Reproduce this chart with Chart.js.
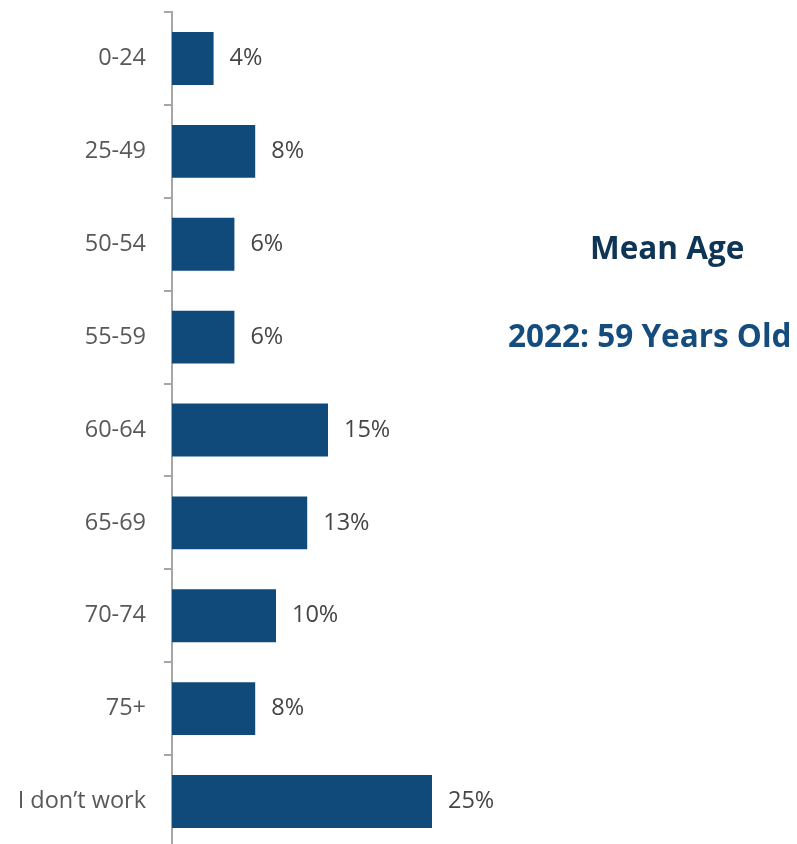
<!DOCTYPE html>
<html>
<head>
<meta charset="utf-8">
<script src="https://cdn.jsdelivr.net/npm/chart.js@4/dist/chart.umd.min.js"></script>
<style>
  html, body { margin: 0; padding: 0; background: #ffffff; overflow: hidden; }
  #wrap { position: relative; width: 797px; height: 844px; overflow: hidden; }
  canvas { display: block; position: absolute; left: 0; top: -20px; }
  .note { position: absolute; font-family: "Open Sans", "Lato", sans-serif; font-weight: 700; white-space: nowrap; line-height: 44px; }
  #t1 { left: 590px; top: 225px; font-size: 31.5px; color: #0E3556; }
  #t2 { left: 508px; top: 313px; font-size: 31.5px; color: #154C7E; }
</style>
</head>
<body>
<div id="wrap">
  <canvas id="c" width="797" height="900"></canvas>
  <div class="note" id="t1">Mean Age</div>
  <div class="note" id="t2">2022: 59 Years Old</div>
</div>
<script>
const categories = ["0-24", "25-49", "50-54", "55-59", "60-64", "65-69", "70-74", "75+", "I don\u2019t work"];
const shares = [4, 8, 6, 6, 15, 13, 10, 8, 25];

const labelFont = { family: "'Open Sans', 'Lato', sans-serif", size: 23.5 };

const valueLabels = {
  id: "valueLabels",
  afterDatasetsDraw(chart) {
    const ctx = chart.ctx;
    const meta = chart.getDatasetMeta(0);
    ctx.save();
    ctx.font = labelFont.size + "px " + labelFont.family;
    ctx.fillStyle = "#454545";
    ctx.textAlign = "left";
    ctx.textBaseline = "middle";
    meta.data.forEach((bar, i) => {
      ctx.fillText(shares[i] + "%", bar.x + 16, bar.y);
    });
    ctx.restore();
  }
};

new Chart(document.getElementById("c"), {
  type: "bar",
  data: {
    labels: categories,
    datasets: [{
      data: shares,
      backgroundColor: "#0F4A7B",
      borderWidth: 0,
      categoryPercentage: 1,
      barPercentage: 0.57
    }]
  },
  options: {
    indexAxis: "y",
    responsive: false,
    animation: false,
    layout: { autoPadding: false, padding: { top: 10, bottom: 2, left: 0, right: 1 } },
    plugins: { legend: { display: false }, tooltip: { enabled: false } },
    scales: {
      x: { display: false, min: 0, max: 60 },
      y: {
        afterFit(scale) { scale.width = 172; },
        grid: {
          offset: true,
          drawOnChartArea: false,
          drawTicks: true,
          tickLength: 8,
          color: "#A6A6A6",
          lineWidth: 2
        },
        border: { display: true, color: "#A6A6A6", width: 2 },
        ticks: {
          color: "#595959",
          font: labelFont,
          padding: 18
        }
      }
    }
  },
  plugins: [valueLabels]
});
</script>
</body>
</html>
